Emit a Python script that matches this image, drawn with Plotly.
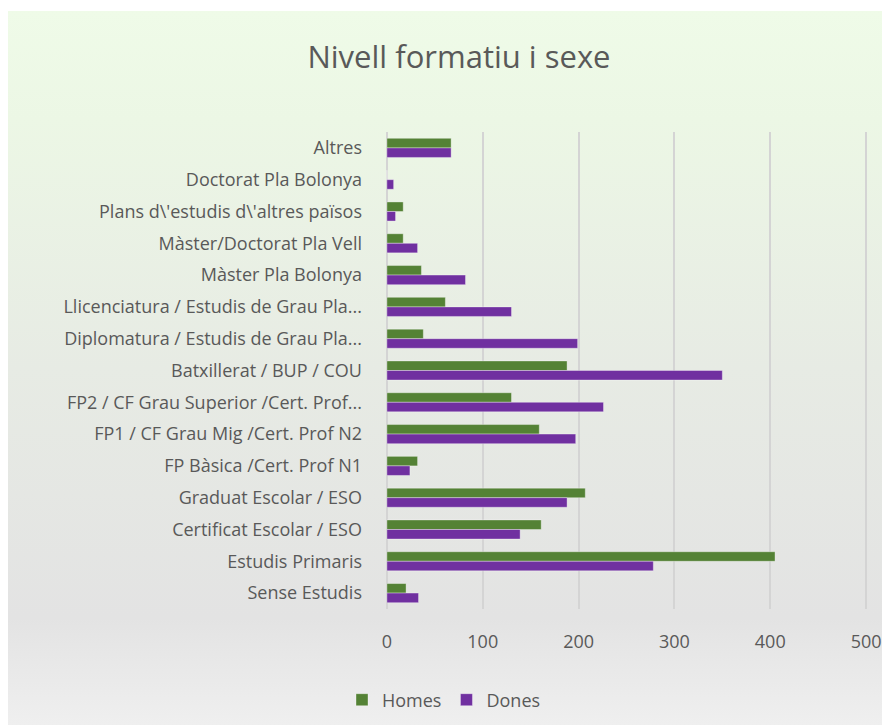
import base64
import plotly.graph_objects as go

categories = [
    "Altres",
    "Doctorat Pla Bolonya",
    "Plans d\\'estudis d\\'altres països",
    "Màster/Doctorat Pla Vell",
    "Màster Pla Bolonya",
    "Llicenciatura / Estudis de Grau Pla...",
    "Diplomatura / Estudis de Grau Pla...",
    "Batxillerat / BUP / COU",
    "FP2 / CF Grau Superior /Cert. Prof...",
    "FP1 / CF Grau Mig /Cert. Prof N2",
    "FP Bàsica /Cert. Prof N1",
    "Graduat Escolar / ESO",
    "Certificat Escolar / ESO",
    "Estudis Primaris",
    "Sense Estudis",
]
homes = [67, 0, 17, 17, 36, 61, 38, 188, 130, 159, 32, 207, 161, 405, 20]
dones = [67, 7, 9, 32, 82, 130, 199, 350, 226, 197, 24, 188, 139, 278, 33]
x_ticks = [0, 100, 200, 300, 400, 500]

# page body has an 8px margin: figure pixel = reference pixel - 8
OFF = 8
W, H = 890 - OFF, 725 - OFF
L = 385 - OFF
R = W - (868 - OFF)
T = 132 - OFF
B = H - (609 - OFF)
pw, ph = W - L - R, H - T - B

svg = (
    '<svg xmlns="http://www.w3.org/2000/svg" width="100" height="100" preserveAspectRatio="none">'
    '<defs><linearGradient id="g" x1="0" y1="0" x2="0" y2="1">'
    '<stop offset="0" stop-color="#effbe8"/>'
    '<stop offset="0.15" stop-color="#ecf7e5"/>'
    '<stop offset="0.5" stop-color="#e7ebe4"/>'
    '<stop offset="0.85" stop-color="#e3e3e3"/>'
    '<stop offset="1" stop-color="#efefef"/>'
    '</linearGradient></defs>'
    '<rect width="100" height="100" fill="url(#g)"/></svg>'
)
src = "data:image/svg+xml;base64," + base64.b64encode(svg.encode()).decode()

fig = go.Figure()
fig.add_trace(go.Bar(
    y=categories, x=homes, name="Homes", orientation="h",
    marker=dict(color="#548235", line=dict(color="rgba(255,255,255,0.5)", width=0.7)),
    legendrank=1,
))
fig.add_trace(go.Bar(
    y=categories, x=dones, name="Dones", orientation="h",
    marker=dict(color="#7030a0", line=dict(color="rgba(255,255,255,0.5)", width=0.7)),
    legendrank=2,
))

box_top = 11 - OFF
box_left = 8 - OFF

fig.update_layout(
    width=W, height=H,
    margin=dict(l=L, r=R, t=T, b=B, autoexpand=False),
    paper_bgcolor="white",
    plot_bgcolor="rgba(0,0,0,0)",
    barmode="group",
    bargap=0.4,
    bargroupgap=0,
    font=dict(family="Open Sans", size=18, color="#595959"),
    title=dict(
        text="Nivell formatiu i sexe",
        font=dict(family="Open Sans", size=31, color="#595959"),
        xref="container", yref="container",
        x=(459 - OFF) / W, y=1 - (57 - OFF) / H, xanchor="center", yanchor="middle",
    ),
    xaxis=dict(
        range=[-2, 502], tickvals=x_ticks, ticktext=[str(v) for v in x_ticks],
        showgrid=True, gridcolor="#d4d4d4", gridwidth=1.5,
        zeroline=False, showline=False, ticks="",
        ticklabelstandoff=20, fixedrange=True,
    ),
    yaxis=dict(
        autorange="reversed", showgrid=False, zeroline=False, showline=False,
        ticks="", ticklabelstandoff=22, fixedrange=True,
    ),
    legend=dict(
        orientation="h", x=(444 - 385) / pw, xanchor="center",
        y=(609 - 700) / ph, yanchor="middle",
        font=dict(size=18, color="#595959"), bgcolor="rgba(0,0,0,0)",
        itemwidth=30,
    ),
    showlegend=True,
    images=[dict(
        source=src, xref="paper", yref="paper",
        x=(box_left - L) / pw, y=(H - B - box_top) / ph,
        sizex=(W + 30 - box_left) / pw, sizey=(H - box_top) / ph,
        xanchor="left", yanchor="top", sizing="stretch", layer="below",
    )],
)

fig.write_html("out.html")
